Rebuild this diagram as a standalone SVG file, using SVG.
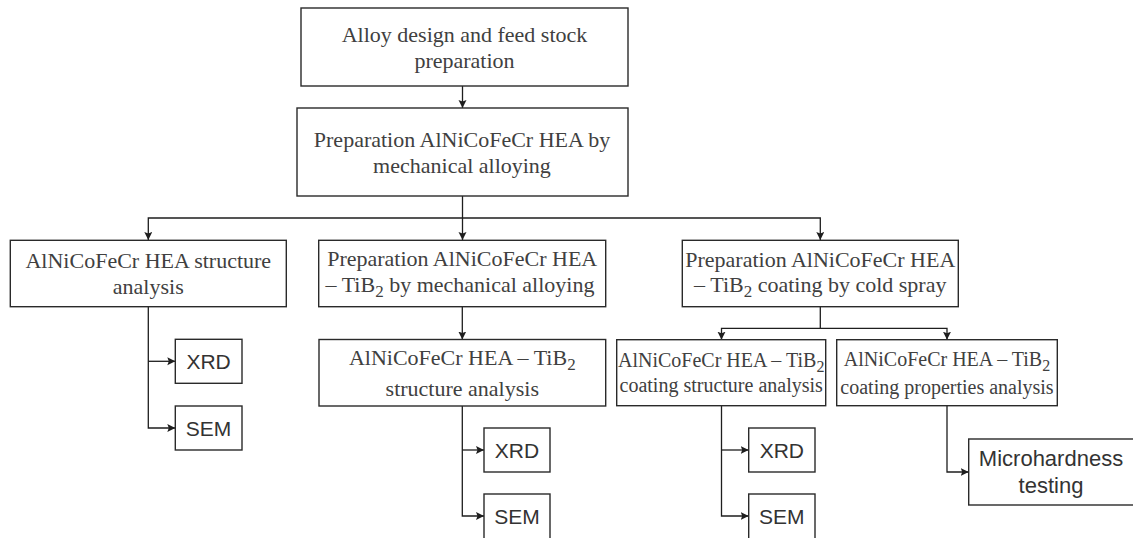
<svg xmlns="http://www.w3.org/2000/svg" width="1133" height="538" viewBox="0 0 1133 538">
  <style>
    .box { fill: #ffffff; stroke: #2a2a2a; stroke-width: 1.4; }
    .serif { font-family: "Liberation Serif", "Times New Roman", serif; font-size: 22px; fill: #404040; text-anchor: middle; }
    .serif20 { font-family: "Liberation Serif", "Times New Roman", serif; font-size: 20px; fill: #404040; text-anchor: middle; }
    .sans { font-family: "Liberation Sans", Arial, sans-serif; font-size: 21px; fill: #333333; text-anchor: middle; }
    .sans22 { font-family: "Liberation Sans", Arial, sans-serif; font-size: 22px; fill: #333333; text-anchor: middle; }
    .conn path { fill: none; stroke: #1e1e1e; stroke-width: 1.3; marker-end: url(#arrow); }
  </style>
  <defs>
    <marker id="arrow" markerUnits="userSpaceOnUse" markerWidth="10" markerHeight="10" refX="8" refY="4" orient="auto">
      <path d="M0,0 L8,4 L0,8 L1.5,4 z" fill="#1e1e1e"/>
    </marker>
  </defs>
  <rect width="1133" height="538" fill="#ffffff"/>

  <g id="connectors" class="conn">
    <path d="M462.5,86 V108"/>
    <path d="M462.5,196 V240"/>
    <path d="M462.5,218 H148.3 V240"/>
    <path d="M462.5,218 H820.3 V240"/>
    <path d="M148.3,306.7 V428 H175.3"/>
    <path d="M148.3,361.3 H175.3"/>
    <path d="M462.3,306.7 V339.5"/>
    <path d="M462.3,406 V516 H484"/>
    <path d="M462.3,450 H484"/>
    <path d="M820.3,306.7 V328.3 H721.5 V339.7"/>
    <path d="M820.3,328.3 H947 V339.7"/>
    <path d="M721.5,405.7 V516 H748.7"/>
    <path d="M721.5,450 H748.7"/>
    <path d="M947,405.7 V472 H968.7"/>
  </g>

  <g id="n-alloy-design">
    <rect class="box" x="301" y="8" width="327" height="78"/>
    <text class="serif" x="464.5" y="41.7">Alloy design and feed stock</text>
    <text class="serif" x="464.5" y="68.3">preparation</text>
  </g>

  <g id="n-prep-hea">
    <rect class="box" x="297" y="108" width="331" height="88"/>
    <text class="serif" x="462" y="146.7">Preparation AlNiCoFeCr HEA by</text>
    <text class="serif" x="462" y="173.3">mechanical alloying</text>
  </g>

  <g id="n-hea-structure">
    <rect class="box" x="10.3" y="240.3" width="276" height="66.4"/>
    <text class="serif" x="148.3" y="268.3">AlNiCoFeCr HEA structure</text>
    <text class="serif" x="148.3" y="294">analysis</text>
  </g>

  <g id="n-prep-tib2-ma">
    <rect class="box" x="318.7" y="240.3" width="287" height="66.4"/>
    <text class="serif" x="462.2" y="266">Preparation AlNiCoFeCr HEA</text>
    <text class="serif" x="460" y="291.7">– TiB<tspan font-size="17" dy="5">2</tspan><tspan dy="-5"> by mechanical alloying</tspan></text>
  </g>

  <g id="n-prep-tib2-cs">
    <rect class="box" x="682.3" y="240.3" width="276" height="66.4"/>
    <text class="serif" x="820.3" y="266.7">Preparation AlNiCoFeCr HEA</text>
    <text class="serif" x="820.3" y="291.7">– TiB<tspan font-size="17" dy="5">2</tspan><tspan dy="-5"> coating by cold spray</tspan></text>
  </g>

  <g id="n-tib2-structure">
    <rect class="box" x="319" y="339.5" width="286.7" height="66.5"/>
    <text class="serif" x="462.3" y="365">AlNiCoFeCr HEA – TiB<tspan font-size="17" dy="5">2</tspan></text>
    <text class="serif" x="462.3" y="396">structure analysis</text>
  </g>

  <g id="n-coating-structure">
    <rect class="box" x="616.7" y="339.7" width="209" height="66"/>
    <text class="serif20" x="721.2" y="366.7">AlNiCoFeCr HEA – TiB<tspan font-size="16" dy="5">2</tspan></text>
    <text class="serif20" x="721.2" y="391.5">coating structure analysis</text>
  </g>

  <g id="n-coating-properties">
    <rect class="box" x="836.7" y="339.7" width="220.6" height="66"/>
    <text class="serif20" x="947" y="365.7">AlNiCoFeCr HEA – TiB<tspan font-size="16" dy="5">2</tspan></text>
    <text class="serif20" x="947" y="394">coating properties analysis</text>
  </g>

  <g id="n-xrd-1">
    <rect class="box" x="175.3" y="339.3" width="66.7" height="44"/>
    <text class="sans" x="208.6" y="369">XRD</text>
  </g>
  <g id="n-sem-1">
    <rect class="box" x="175.3" y="406" width="66.7" height="44"/>
    <text class="sans" x="208.6" y="435.6">SEM</text>
  </g>

  <g id="n-xrd-2">
    <rect class="box" x="484" y="428" width="66" height="44"/>
    <text class="sans" x="517" y="457.6">XRD</text>
  </g>
  <g id="n-sem-2">
    <rect class="box" x="484" y="494" width="66" height="50"/>
    <text class="sans" x="517" y="523.8">SEM</text>
  </g>

  <g id="n-xrd-3">
    <rect class="box" x="748.7" y="428" width="66.3" height="44"/>
    <text class="sans" x="781.8" y="457.6">XRD</text>
  </g>
  <g id="n-sem-3">
    <rect class="box" x="748.7" y="494" width="66.3" height="50"/>
    <text class="sans" x="781.8" y="523.8">SEM</text>
  </g>

  <g id="n-microhardness">
    <rect class="box" x="968.7" y="439" width="172" height="66"/>
    <text class="sans22" x="1051" y="466">Microhardness</text>
    <text class="sans22" x="1051" y="492.7">testing</text>
  </g>
</svg>
